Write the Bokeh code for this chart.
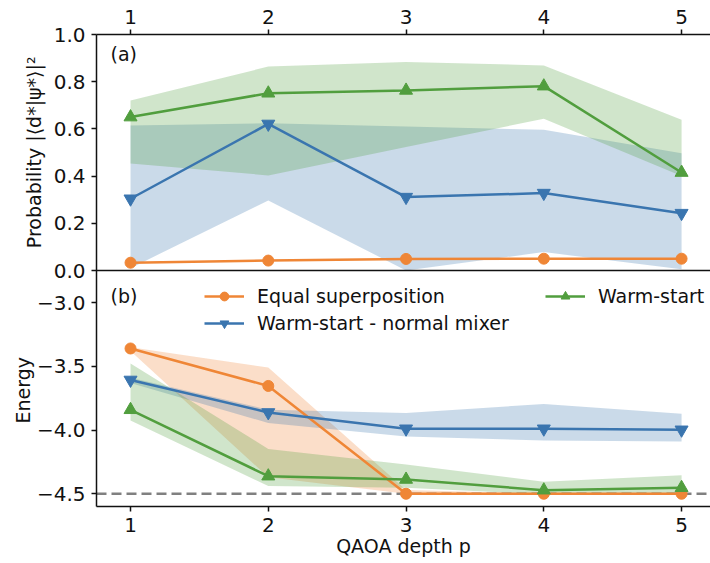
from bokeh.plotting import figure
from bokeh.models import (Range1d, LinearAxis, FixedTicker, CustomJSTickFormatter,
                          Legend, LegendItem, Span, Label, Title)
from bokeh.embed import file_html
from bokeh.resources import INLINE

# ---------------- data ----------------
depth = [1, 2, 3, 4, 5]

# panel (a): probability of the optimal solution
prob_equal = [0.033, 0.042, 0.049, 0.050, 0.050]
prob_ws_normal = [0.304, 0.621, 0.311, 0.328, 0.243]
prob_ws_normal_lo = [0.010, 0.297, 0.000, 0.078, 0.005]
prob_ws_normal_hi = [0.614, 0.624, 0.610, 0.596, 0.497]
prob_ws = [0.650, 0.751, 0.763, 0.781, 0.415]
prob_ws_lo = [0.453, 0.403, 0.523, 0.643, 0.400]
prob_ws_hi = [0.720, 0.864, 0.883, 0.869, 0.639]

# panel (b): energy
energy_equal = [-3.360, -3.654, -4.500, -4.500, -4.500]
energy_equal_lo = [-3.380, -4.370, -4.500, -4.500, -4.500]
energy_equal_hi = [-3.350, -3.510, -4.470, -4.500, -4.500]
energy_ws_normal = [-3.607, -3.862, -3.990, -3.990, -3.998]
energy_ws_normal_lo = [-3.630, -3.945, -4.050, -4.083, -4.089]
energy_ws_normal_hi = [-3.590, -3.840, -3.867, -3.795, -3.873]
energy_ws = [-3.841, -4.362, -4.388, -4.472, -4.453]
energy_ws_lo = [-3.925, -4.440, -4.453, -4.505, -4.505]
energy_ws_hi = [-3.477, -4.148, -4.271, -4.406, -4.355]
ground_energy = -4.5

depth_ticks = [1, 2, 3, 4, 5]
prob_ticks = [0.0, 0.2, 0.4, 0.6, 0.8, 1.0]
energy_ticks = [-4.5, -4.0, -3.5, -3.0]
series_labels = ["Equal superposition", "Warm-start - normal mixer", "Warm-start"]
prob_title = "Probability |⟨d*|ψ*⟩|²"
energy_title = "Energy"
depth_title = "QAOA depth p"

# axis limits of the two panels
depth_lim = (0.753, 5.21)
prob_lim = (0.0, 1.0)
energy_lim = (-4.6, -2.748)

# ---------------- style ----------------
FONT = "DejaVu Sans"
FS = "19px"
FS_TICK = "20px"
INK = "#111111"
C_OR = "#ef8636"
C_BL = "#3a75af"
C_GR = "#519e3e"
BAND_ALPHA = 0.27
LW = 2.5
AX_LW = 1.5
W, H = 710, 563
B_LEFT, B_TOP, B_BOTTOM = 96, 34, 57

# Both panels share one frame: the energy panel is the lower half of the main
# y range, the probability panel is an extra y range that occupies the upper half.
e_span = energy_lim[1] - energy_lim[0]
p_span = prob_lim[1] - prob_lim[0]
main_range = Range1d(energy_lim[0], energy_lim[1] + e_span)
prob_range = Range1d(prob_lim[0] - p_span, prob_lim[1])


def prob_to_main(v):
    return energy_lim[1] + (v - prob_lim[0]) / p_span * e_span


p = figure(width=W, height=H, x_range=Range1d(*depth_lim), y_range=main_range,
           output_backend="svg", toolbar_location=None,
           x_axis_location=None, y_axis_location=None,
           min_border_left=B_LEFT, min_border_right=0, min_border_top=B_TOP,
           min_border_bottom=B_BOTTOM)
p.extra_y_ranges = {"prob": prob_range}
p.outline_line_color = None
p.xgrid.visible = False
p.ygrid.visible = False
p.background_fill_color = "white"


def style_axis(ax):
    ax.axis_line_width = AX_LW
    ax.axis_line_color = INK
    ax.major_tick_line_width = AX_LW
    ax.major_tick_line_color = INK
    ax.major_tick_out = 5
    ax.major_tick_in = 0
    ax.minor_tick_line_color = None
    ax.major_label_text_font = FONT
    ax.major_label_text_font_size = FS_TICK
    ax.major_label_text_color = INK
    ax.major_label_standoff = 6
    ax.axis_label_text_font = FONT
    ax.axis_label_text_font_size = FS
    ax.axis_label_text_font_style = "normal"
    ax.axis_label_text_color = INK
    ax.axis_label_standoff = 0


fmt_depth = CustomJSTickFormatter(code="return tick.toFixed(0);")

# left axis carrying the ticks of both panels
left_ticks = energy_ticks + [prob_to_main(v) for v in prob_ticks]
fmt_left = CustomJSTickFormatter(
    args=dict(etop=energy_lim[1], espan=e_span, p0=prob_lim[0], pspan=p_span),
    code="""
    if (tick > etop - 1e-9) { return (p0 + (tick - etop) / espan * pspan).toFixed(1); }
    return tick.toFixed(1).replace('-', '\\u2212');
    """)
ya = LinearAxis(ticker=FixedTicker(ticks=left_ticks), formatter=fmt_left)
style_axis(ya)
p.add_layout(ya, "left")

# axis titles of the two panels (side titles placed along each panel)
p.add_layout(Title(text=prob_title, align="right", vertical_align="bottom",
                   offset=22, standoff=-23,
                   text_font=FONT, text_font_size=FS, text_font_style="normal",
                   text_color=INK), "left")
p.add_layout(Title(text=energy_title, align="left", vertical_align="middle",
                   offset=83, standoff=-4,
                   text_font=FONT, text_font_size=FS, text_font_style="normal",
                   text_color=INK), "left")

xa_top = LinearAxis(ticker=FixedTicker(ticks=depth_ticks), formatter=fmt_depth)
style_axis(xa_top)
p.add_layout(xa_top, "above")

xa_bot = LinearAxis(ticker=FixedTicker(ticks=depth_ticks), formatter=fmt_depth,
                    axis_label=depth_title)
style_axis(xa_bot)
p.add_layout(xa_bot, "below")

# boundary between the panels
p.add_layout(Span(location=energy_lim[1], dimension="width", line_color=INK,
                  line_width=AX_LW))

# ---------------- panel (a) ----------------
p.varea(x=depth, y1=prob_ws_normal_lo, y2=prob_ws_normal_hi, fill_color=C_BL,
        fill_alpha=BAND_ALPHA, y_range_name="prob")
p.varea(x=depth, y1=prob_ws_lo, y2=prob_ws_hi, fill_color=C_GR,
        fill_alpha=BAND_ALPHA, y_range_name="prob")

p.line(depth, prob_equal, line_color=C_OR, line_width=LW, y_range_name="prob")
p.scatter(depth, prob_equal, marker="circle", size=11, color=C_OR, y_range_name="prob")
p.line(depth, prob_ws_normal, line_color=C_BL, line_width=LW, y_range_name="prob")
p.scatter(depth, prob_ws_normal, marker="inverted_triangle", size=13, color=C_BL,
          y_range_name="prob")
p.line(depth, prob_ws, line_color=C_GR, line_width=LW, y_range_name="prob")
p.scatter(depth, prob_ws, marker="triangle", size=13, color=C_GR, y_range_name="prob")

p.add_layout(Label(x=0.855, y=0.965, y_range_name="prob", text="(a)", text_baseline="top",
                   text_font=FONT, text_font_size=FS, text_color=INK))

# ---------------- panel (b) ----------------
p.add_layout(Span(location=ground_energy, dimension="width", line_color="#808080",
                  line_width=2.5, line_dash="10 5", level="underlay"))

p.varea(x=depth, y1=energy_equal_lo, y2=energy_equal_hi, fill_color=C_OR, fill_alpha=BAND_ALPHA)
p.varea(x=depth, y1=energy_ws_normal_lo, y2=energy_ws_normal_hi, fill_color=C_BL,
        fill_alpha=BAND_ALPHA)
p.varea(x=depth, y1=energy_ws_lo, y2=energy_ws_hi, fill_color=C_GR, fill_alpha=BAND_ALPHA)

l_or = p.line(depth, energy_equal, line_color=C_OR, line_width=LW)
s_or = p.scatter(depth, energy_equal, marker="circle", size=11, color=C_OR)
l_bl = p.line(depth, energy_ws_normal, line_color=C_BL, line_width=LW)
s_bl = p.scatter(depth, energy_ws_normal, marker="inverted_triangle", size=13, color=C_BL)
l_gr = p.line(depth, energy_ws, line_color=C_GR, line_width=LW)
s_gr = p.scatter(depth, energy_ws, marker="triangle", size=13, color=C_GR)

p.add_layout(Label(x=0.855, y=-2.86, text="(b)", text_baseline="top",
                   text_font=FONT, text_font_size=FS, text_color=INK))


def make_legend(items, loc):
    lg = Legend(items=items, location=loc, orientation="vertical")
    lg.border_line_color = None
    lg.background_fill_alpha = 0
    lg.padding = 0
    lg.margin = 0
    lg.spacing = 5
    lg.glyph_width = 40
    lg.glyph_height = 22
    lg.label_height = 22
    lg.label_standoff = 13
    lg.label_text_font = FONT
    lg.label_text_font_size = FS
    lg.label_text_color = INK
    return lg


p.add_layout(make_legend([
    LegendItem(label=series_labels[0], renderers=[l_or, s_or]),
    LegendItem(label=series_labels[1], renderers=[l_bl, s_bl]),
], (108, 172)))
p.add_layout(make_legend([
    LegendItem(label=series_labels[2], renderers=[l_gr, s_gr]),
], (449, 199)))

open("out.html", "w").write(file_html(p, INLINE))
